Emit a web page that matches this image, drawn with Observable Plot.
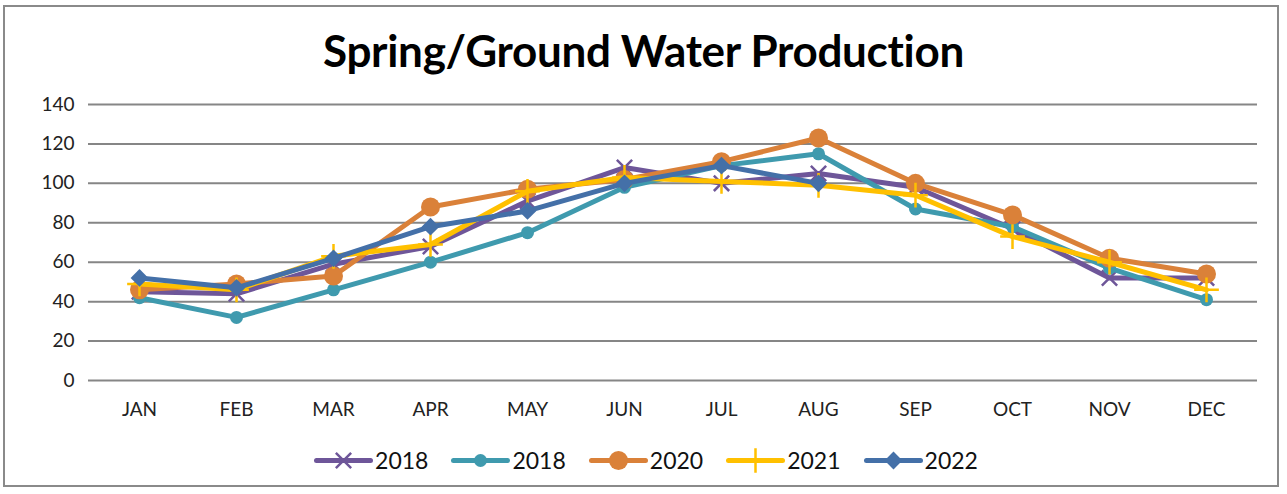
<!DOCTYPE html>
<html>
<head>
<meta charset="utf-8">
<script src="https://cdn.jsdelivr.net/npm/d3@7"></script>
<script src="https://cdn.jsdelivr.net/npm/@observablehq/plot@0.6"></script>
<style>
  html, body { margin: 0; padding: 0; background: #fff; }
  #wrap { position: relative; width: 1287px; height: 494px; overflow: hidden; font-family: Lato, "Open Sans", sans-serif; }
  #frame { position: absolute; left: 3px; top: 5px; width: 1276px; height: 482px; border: 2px solid #8a8a8a; box-sizing: border-box; }
  #title { position: absolute; left: 0; width: 1287px; top: 24px; text-align: center; font-weight: bold; font-size: 44px; color: #000; line-height: 52px; letter-spacing: -0.3px; }
  #chart { position: absolute; left: 0; top: 80px; }
  #legend { position: absolute; left: 0; width: 1287px; top: 446px; display: flex; justify-content: center; gap: 22px; font-size: 23px; color: #111; padding-left: 2px; }
  .item { display: flex; align-items: center; gap: 2px; }
</style>
</head>
<body>
<div id="wrap">
  <div id="frame"></div>
  <div id="title">Spring/Ground Water Production</div>
  <div id="chart"></div>
  <div id="legend"></div>
</div>
<script>
const months = ["JAN","FEB","MAR","APR","MAY","JUN","JUL","AUG","SEP","OCT","NOV","DEC"];
const yTicks = [0, 20, 40, 60, 80, 100, 120, 140];
const seriesNames = ["2018", "2018", "2020", "2021", "2022"];
const s2018a = [45, 44, 59, 68, 91, 108, 100, 105, 98, 77, 52, 52];
const s2018b = [42, 32, 46, 60, 75, 98, 109, 115, 87, 78, 57, 41];
const s2020  = [46, 49, 53, 88, 97, 102, 111, 123, 100, 84, 62, 54];
const s2021  = [49, 46, 63, 69, 96, 103, 101, 99, 94, 73, 60, 46];
const s2022  = [52, 47, 62, 78, 86, 100, 109, 100];

const styles = [
  {color: "#6e5699", symbol: "times", r: 7, filled: false},
  {color: "#3f9aae", symbol: "circle", r: 6.5, filled: true},
  {color: "#da8139", symbol: "circle", r: 9.5, filled: true},
  {color: "#ffc000", symbol: "plus", r: 8, filled: false},
  {color: "#4470a8", symbol: "diamond2", r: 8, filled: true}
];
const allSeries = [s2018a, s2018b, s2020, s2021, s2022];

const marks = [
  Plot.ruleY(yTicks, {stroke: "#868686", strokeWidth: 2, strokeOpacity: 1})
];
allSeries.forEach((vals, i) => {
  const st = styles[i];
  const data = vals.map((v, j) => ({month: months[j], value: v}));
  marks.push(Plot.line(data, {x: "month", y: "value", stroke: st.color, strokeWidth: 5, strokeLinejoin: "round", strokeLinecap: "round"}));
  if (st.filled) {
    marks.push(Plot.dot(data, {x: "month", y: "value", symbol: st.symbol, r: st.r, fill: st.color, stroke: "none"}));
  } else {
    marks.push(Plot.dot(data, {x: "month", y: "value", symbol: st.symbol, r: st.r, stroke: st.color, strokeWidth: 2.5, fill: "none"}));
  }
});
marks.push(Plot.axisY(yTicks, {tickSize: 0, tickPadding: 14, fontSize: 19, fill: "#222", label: null}));
marks.push(Plot.axisX(months, {tickSize: 0, tickPadding: 22, fontSize: 19, fill: "#222", label: null}));

const chart = Plot.plot({
  width: 1287,
  height: 350,
  marginLeft: 88,
  marginRight: 30,
  marginTop: 24,
  marginBottom: 50,
  style: {fontFamily: "Lato, 'Open Sans', sans-serif", background: "transparent"},
  x: {type: "point", domain: months, padding: 0.5},
  y: {domain: [0, 140]},
  marks
});
document.getElementById("chart").appendChild(chart);

// legend
const legend = document.getElementById("legend");
seriesNames.forEach((name, i) => {
  const st = styles[i];
  const item = document.createElement("div");
  item.className = "item";
  const sw = Plot.plot({
    width: 60, height: 28, margin: 0,
    x: {domain: [0, 1], range: [3, 57]}, y: {domain: [0, 1], range: [24, 4]},
    axis: null,
    style: {background: "transparent"},
    marks: [
      Plot.line([{a: 0, b: 0.5}, {a: 1, b: 0.5}], {x: "a", y: "b", stroke: st.color, strokeWidth: 5, strokeLinecap: "round"}),
      st.filled
        ? Plot.dot([{a: 0.5, b: 0.5}], {x: "a", y: "b", symbol: st.symbol, r: st.r, fill: st.color})
        : Plot.dot([{a: 0.5, b: 0.5}], {x: "a", y: "b", symbol: st.symbol, r: st.r, stroke: st.color, strokeWidth: 2.5})
    ]
  });
  item.appendChild(sw);
  const lab = document.createElement("span");
  lab.textContent = name;
  item.appendChild(lab);
  legend.appendChild(item);
});
</script>
</body>
</html>
